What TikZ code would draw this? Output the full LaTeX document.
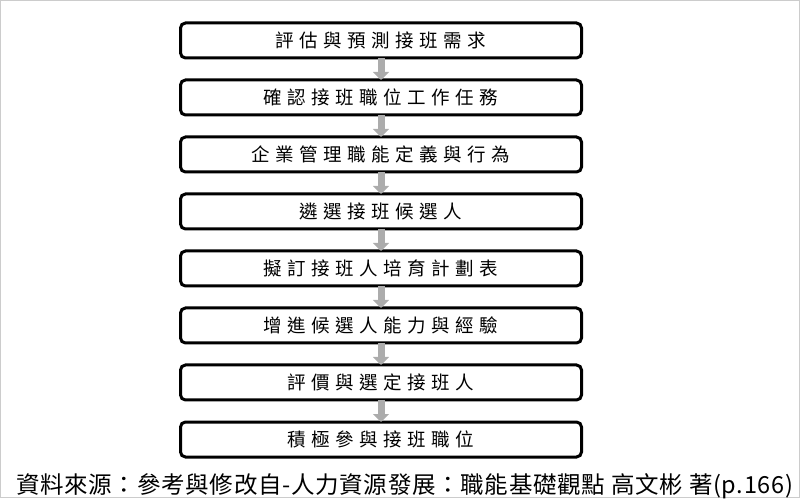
\documentclass[tikz,border=0pt]{standalone}
\usepackage{fontspec}
\newfontfamily\stagefont[LetterSpace=30]{Noto Sans CJK TC}
\newfontfamily\notefont[LetterSpace=3]{Noto Sans CJK TC}
\usetikzlibrary{positioning,arrows.meta}

\begin{document}
\begin{tikzpicture}[x=1pt,y=1pt,
  stage/.style={draw,rounded corners=5pt,line width=3pt,outer sep=0pt,minimum width=401pt,minimum height=35pt,inner sep=0pt,font=\fontsize{18.5}{20}\stagefont},
  flow/.style={draw=gray!65,line width=7pt,-{Triangle[width=16pt,length=8pt]}},
  node distance=22pt]
\useasboundingbox (0,0) rectangle (800,498);
\draw[gray!40,line width=1pt] (0.5,0.5) rectangle (799.5,497.5);
% the steps, top to bottom
\node[stage] (s1) at (381,457.5) {評估與預測接班需求};
\node[stage,below=of s1] (s2) {確認接班職位工作任務};
\node[stage,below=of s2] (s3) {企業管理職能定義與行為};
\node[stage,below=of s3] (s4) {遴選接班候選人};
\node[stage,below=of s4] (s5) {擬訂接班人培育計劃表};
\node[stage,below=of s5] (s6) {增進候選人能力與經驗};
\node[stage,below=of s6] (s7) {評價與選定接班人};
\node[stage,below=of s7] (s8) {積極參與接班職位};
\foreach \a/\b in {s1/s2,s2/s3,s3/s4,s4/s5,s5/s6,s6/s7,s7/s8}
  \draw[flow] (\a) -- (\b);
% source line
\node[anchor=west,inner sep=0pt,font=\fontsize{23.5}{25}\notefont] (src) at (16,12) {資料來源：參考與修改自-人力資源發展：職能基礎觀點 高文彬 著(p.166)};
\end{tikzpicture}
\end{document}
